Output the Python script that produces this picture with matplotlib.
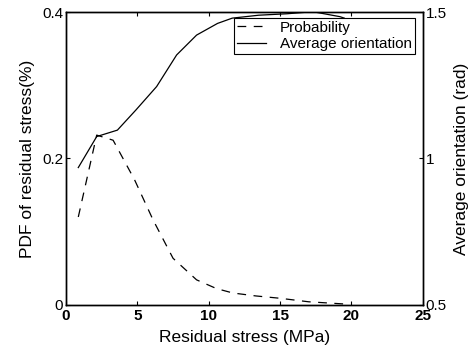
import matplotlib
matplotlib.use("Agg")
import matplotlib.pyplot as plt

plt.rcParams['font.family'] = ['Liberation Sans', 'DejaVu Sans']

stress_pdf = [0.86, 2.15, 3.3, 4.8, 6.1, 7.5, 9.15, 10.55, 11.7, 13.3, 15.0, 17.0, 19.5]
pdf = [0.120, 0.232, 0.225, 0.171, 0.116, 0.0635, 0.034, 0.022, 0.016, 0.012, 0.0088, 0.004, 0.001]

stress_ori = [0.86, 2.15, 3.6, 4.9, 6.35, 7.75, 9.15, 10.62, 11.65, 13.5, 15.5, 17.3, 19.2, 19.5]
orientation = [0.969, 1.075, 1.097, 1.166, 1.246, 1.354, 1.422, 1.462, 1.48, 1.49, 1.495, 1.502, 1.485, 1.48]

fig = plt.figure(figsize=(4.75, 3.48), dpi=100)
ax = fig.add_axes([0.139, 0.1244, 0.751, 0.8403])
ax2 = ax.twinx()

l1, = ax.plot(stress_pdf, pdf, color='black', lw=0.9, linestyle=(0, (7, 6)), label='Probability')
l2, = ax2.plot(stress_ori, orientation, color='black', lw=0.9, label='Average orientation')

ax.set_xlim(0, 25)
ax.set_ylim(0, 0.4)
ax2.set_ylim(0.5, 1.5)
ax.set_xticks([0, 5, 10, 15, 20, 25])
ax.set_yticks([0, 0.2, 0.4])
ax.set_yticklabels(['0', '0.2', '0.4'])
ax2.set_yticks([0.5, 1, 1.5])
ax2.set_yticklabels(['0.5', '1', '1.5'])

for a in (ax, ax2):
    a.tick_params(direction='in', length=3, width=0.8, labelsize=11, pad=2)
    for s in a.spines.values():
        s.set_linewidth(1.0)
ax.tick_params(top=True, axis='x', pad=3)
for t in ax.get_xticklabels():
    t.set_fontweight('bold')

ax.set_xlabel('Residual stress (MPa)', fontsize=12.5, labelpad=5)
ax.set_ylabel('PDF of residual stress(%)', fontsize=12.5, labelpad=5)
ax2.set_ylabel('Average orientation (rad)', fontsize=12.5, labelpad=5)

leg = ax2.legend([l1, l2], ['Probability', 'Average orientation'], loc='upper right',
                 bbox_to_anchor=(0.978, 0.9815), fontsize=11, fancybox=False,
                 edgecolor='black', framealpha=1, borderaxespad=0, borderpad=0.2,
                 handlelength=1.9, handletextpad=0.9, labelspacing=0.15)
leg.get_frame().set_linewidth(0.8)

fig.savefig('out.png', dpi=100)
